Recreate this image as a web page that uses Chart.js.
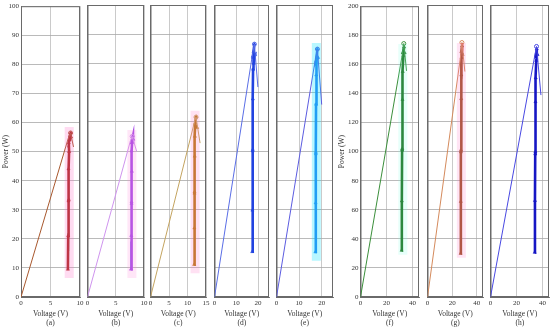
<!DOCTYPE html>
<html>
<head>
<meta charset="utf-8">
<script src="https://cdn.jsdelivr.net/npm/chart.js@4.4.0/dist/chart.umd.min.js"></script>
<style>
  html, body { margin: 0; padding: 0; background: #fff; }
  #wrap { position: relative; width: 550px; height: 330px; overflow: hidden; }
  #wrap canvas { position: absolute; top: 0; }
</style>
</head>
<body>
<div id="wrap"></div>
<script>
// --- Data (voltage in V, power in W) ---
const panelLabels = ['(a)', '(b)', '(c)', '(d)', '(e)', '(f)', '(g)', '(h)'];
const voltMax = [10, 10, 15, 25, 25, 45, 45, 45];
const voltStep = [5, 5, 5, 10, 10, 20, 20, 20];
const powerMax = [100, 100, 100, 100, 100, 200, 200, 200];
const powerStep = [10, 10, 10, 10, 10, 20, 20, 20];

// P-V curve (thin line from origin, peak, falling tail)
const aCurveV = [0, 8.0, 8.4, 8.9];
const aCurveP = [0, 54.5, 56.4, 51.6];
const bCurveV = [0, 7.6, 7.9, 8.7];
const bCurveP = [0, 53.5, 55.0, 49.9];
const cCurveV = [0, 12.0, 12.3, 13.4];
const cCurveP = [0, 60.5, 61.6, 52.7];
const dCurveV = [0, 17.2, 18.3, 19.9];
const dCurveP = [0, 82.0, 86.6, 71.9];
const eCurveV = [0, 17.0, 18.1, 20.0];
const eCurveP = [0, 80.5, 84.9, 65.9];
const fCurveV = [0, 32.0, 33.3, 35.4];
const fCurveP = [0, 166, 174.3, 155.5];
const gCurveV = [0, 27.0, 27.9, 30.3];
const gCurveP = [0, 166, 174.3, 154.4];
const hCurveV = [0, 34.0, 35.4, 38.8];
const hCurveP = [0, 165, 171.6, 138.3];

// tracking trace (operating points climbing to the peak)
const aTrackV = [7.95, 8.0, 8.05, 8.1, 8.05, 8.15, 8.1, 8.3, 8.45, 8.25, 8.5];
const aTrackP = [9.5, 21, 33, 33.5, 44, 50, 53, 55.5, 56.5, 54, 55];
const bTrackV = [7.7, 7.75, 7.8, 7.8, 7.85, 7.8, 7.9, 8.05, 7.85, 8.1];
const bTrackP = [9.5, 21, 32, 32.5, 43, 50, 53, 55.2, 53.5, 54];
const cTrackV = [11.8, 11.85, 11.9, 11.9, 11.95, 12.0, 12.1, 12.35, 12.0, 12.6];
const cTrackP = [11.1, 23.6, 35.5, 36, 48.2, 55, 59.5, 61.8, 59, 58];
const dTrackV = [17.3, 17.4, 17.5, 17.55, 17.6, 17.7, 17.9, 18.3, 17.6, 18.6, 18.0];
const dTrackP = [15.5, 29.7, 50, 50.5, 67.8, 78, 84, 86.6, 82.4, 83, 80];
const eTrackV = [17.2, 17.3, 17.4, 17.45, 17.5, 17.6, 17.8, 18.1, 17.5, 18.4];
const eTrackP = [15.4, 32.2, 49, 49.5, 66, 76, 82, 85, 80.7, 82];
const fTrackV = [31.6, 31.8, 32.0, 32.1, 32.3, 32.5, 33.0, 33.5, 32.6, 34.0];
const fTrackP = [32, 66, 101, 102, 135.8, 155, 166, 172, 168, 168];
const gTrackV = [26.8, 27.0, 27.1, 27.2, 27.3, 27.4, 27.6, 28.0, 27.4, 28.5];
const gTrackP = [29.8, 65.4, 99.3, 100.5, 135.8, 152, 164, 172, 168, 166];
const hTrackV = [34.0, 34.2, 34.4, 34.5, 34.6, 34.8, 35.2, 35.6, 34.9, 36.2];
const hTrackP = [30.5, 66, 98, 99.5, 133.7, 150, 162, 170, 165, 166];

// short segments drawn in another colour
const aLowV = [7.95, 8.0, 8.02];
const aLowP = [10, 16, 22];
const bLowV = [7.7, 7.72, 7.74];
const bLowP = [9.5, 14, 19];
const gTopV = [27.4, 27.6, 28.0, 28.4];
const gTopP = [150, 164, 174, 168];

// --- Layout and styles ---
const FONT = "'Liberation Serif', 'Times New Roman', serif";
const panels = [
  { L: 21,    R: 80,    yw: 21,   curve: [aCurveV, aCurveP], track: [aTrackV, aTrackP], extra: [aLowV, aLowP],
    curveColor: '#a8582e', trackColor: '#a8201a', extraColor: '#2e8b2e', band: 'rgba(255,110,200,0.25)' },
  { L: 83.5,  R: 143,   yw: 1,    curve: [bCurveV, bCurveP], track: [bTrackV, bTrackP], extra: [bLowV, bLowP],
    curveColor: '#cf94ee', trackColor: '#a444e6', extraColor: '#4a5ee0', band: 'rgba(255,140,220,0.22)' },
  { L: 147,   R: 206,   yw: 1,    curve: [cCurveV, cCurveP], track: [cTrackV, cTrackP],
    curveColor: '#c4a460', trackColor: '#b8780e', band: 'rgba(255,120,200,0.22)' },
  { L: 210.5, R: 268.5, yw: 1,    curve: [dCurveV, dCurveP], track: [dTrackV, dTrackP],
    curveColor: '#5a6ee6', trackColor: '#2244e0', band: null },
  { L: 273,   R: 333,   yw: 1,    curve: [eCurveV, eCurveP], track: [eTrackV, eTrackP],
    curveColor: '#5c5ce0', trackColor: '#2f84f0', band: 'rgba(0,225,255,0.28)' },
  { L: 360.5, R: 419,   yw: 24.5, curve: [fCurveV, fCurveP], track: [fTrackV, fTrackP],
    curveColor: '#3b8f3b', trackColor: '#1b6e1b', band: 'rgba(120,255,230,0.18)' },
  { L: 423.5, R: 482.5, yw: 1,    curve: [gCurveV, gCurveP], track: [gTrackV, gTrackP], extra: [gTopV, gTopP],
    curveColor: '#d48a5c', trackColor: '#9e4f26', extraColor: '#e02424', band: 'rgba(255,120,200,0.2)' },
  { L: 487,   R: 548.5, yw: 1,    curve: [hCurveV, hCurveP], track: [hTrackV, hTrackP],
    curveColor: '#4848e2', trackColor: '#1616c4', band: null }
];

const RIGHT_PAD = 6;
const TOP = 5;

function toPoints(vs, ps) {
  return vs.map((v, i) => ({ x: v, y: ps[i] }));
}

// panel frame drawn under the data
const framePlugin = {
  id: 'frame',
  beforeDatasetsDraw(chart) {
    const { ctx, chartArea: a } = chart;
    ctx.save();
    ctx.strokeStyle = '#6a6a6a';
    ctx.lineWidth = 1;
    ctx.strokeRect(a.left + 0.5, a.top + 0.5, a.right - a.left - 1, a.bottom - a.top - 1);
    ctx.restore();
  }
};

const wrap = document.getElementById('wrap');

panels.forEach((p, i) => {
  const canvas = document.createElement('canvas');
  const w = p.yw + (p.R - p.L) + RIGHT_PAD;
  canvas.width = Math.round(w);
  canvas.height = 330;
  canvas.style.left = (p.L - p.yw) + 'px';
  canvas.style.width = Math.round(w) + 'px';
  canvas.style.height = '330px';
  wrap.appendChild(canvas);

  const showY = p.yw > 2;
  const trackPts = toPoints(p.track[0], p.track[1]);
  const curvePts = toPoints(p.curve[0], p.curve[1]);
  const peakIdx = p.curve[1].indexOf(Math.max(...p.curve[1]));

  const datasets = [];
  if (p.band) {
    const bandV = p.track[0].reduce((s, v) => s + v, 0) / p.track[0].length;
    datasets.push({
      data: [{ x: bandV, y: Math.min(...p.track[1]) - 3 }, { x: bandV, y: Math.max(...p.track[1]) + 2 }],
      showLine: true, borderColor: p.band, borderWidth: 9, borderCapStyle: 'butt', pointRadius: 0
    });
  }
  datasets.push({
    data: curvePts, showLine: true, borderColor: p.curveColor, borderWidth: 1,
    pointRadius: ctx => ctx.dataIndex === peakIdx ? 2 : 0,
    pointBackgroundColor: 'rgba(255,255,255,0)', pointBorderColor: p.curveColor, pointBorderWidth: 1
  });
  datasets.push({
    data: trackPts, showLine: true, borderColor: p.trackColor, borderWidth: 2.6,
    pointStyle: 'triangle', pointRadius: 1.8,
    pointBackgroundColor: p.trackColor, pointBorderColor: p.trackColor, pointBorderWidth: 0.5
  });
  if (p.extra) {
    datasets.push({
      data: toPoints(p.extra[0], p.extra[1]), showLine: true, borderColor: p.extraColor,
      borderWidth: 1.6, pointRadius: 0
    });
  }

  new Chart(canvas.getContext('2d'), {
    type: 'scatter',
    data: { datasets },
    options: {
      responsive: false,
      animation: false,
      devicePixelRatio: 1,
      layout: { padding: { top: TOP, right: RIGHT_PAD, left: 0, bottom: 0 } },
      plugins: { legend: { display: false }, tooltip: { enabled: false } },
      scales: {
        x: {
          type: 'linear', min: 0, max: voltMax[i],
          afterFit: s => { s.height = 33; },
          ticks: {
            stepSize: voltStep[i], includeBounds: false, padding: 2, maxRotation: 0, autoSkip: false,
            color: '#333', font: { family: FONT, size: 7 }
          },
          grid: { color: '#bcbcbc', lineWidth: 0.8, drawTicks: false },
          border: { color: '#6a6a6a' },
          title: {
            display: true, text: ['Voltage (V)', panelLabels[i]], color: '#333',
            font: { family: FONT, size: 7.5, lineHeight: 1.25 }, padding: { top: 0, bottom: 2 }
          }
        },
        y: {
          type: 'linear', min: 0, max: powerMax[i],
          afterFit: s => { s.width = p.yw; },
          ticks: {
            display: showY, stepSize: powerStep[i], padding: 2,
            color: '#333', font: { family: FONT, size: 7 }
          },
          grid: { color: '#a8a8a8', lineWidth: 0.8, drawTicks: false },
          border: { color: '#6a6a6a' },
          title: {
            display: showY, text: 'Power (W)', color: '#333',
            font: { family: FONT, size: 7.5 }, padding: { top: 2, bottom: 0 }
          }
        }
      }
    },
    plugins: [framePlugin]
  });
});
</script>
</body>
</html>
